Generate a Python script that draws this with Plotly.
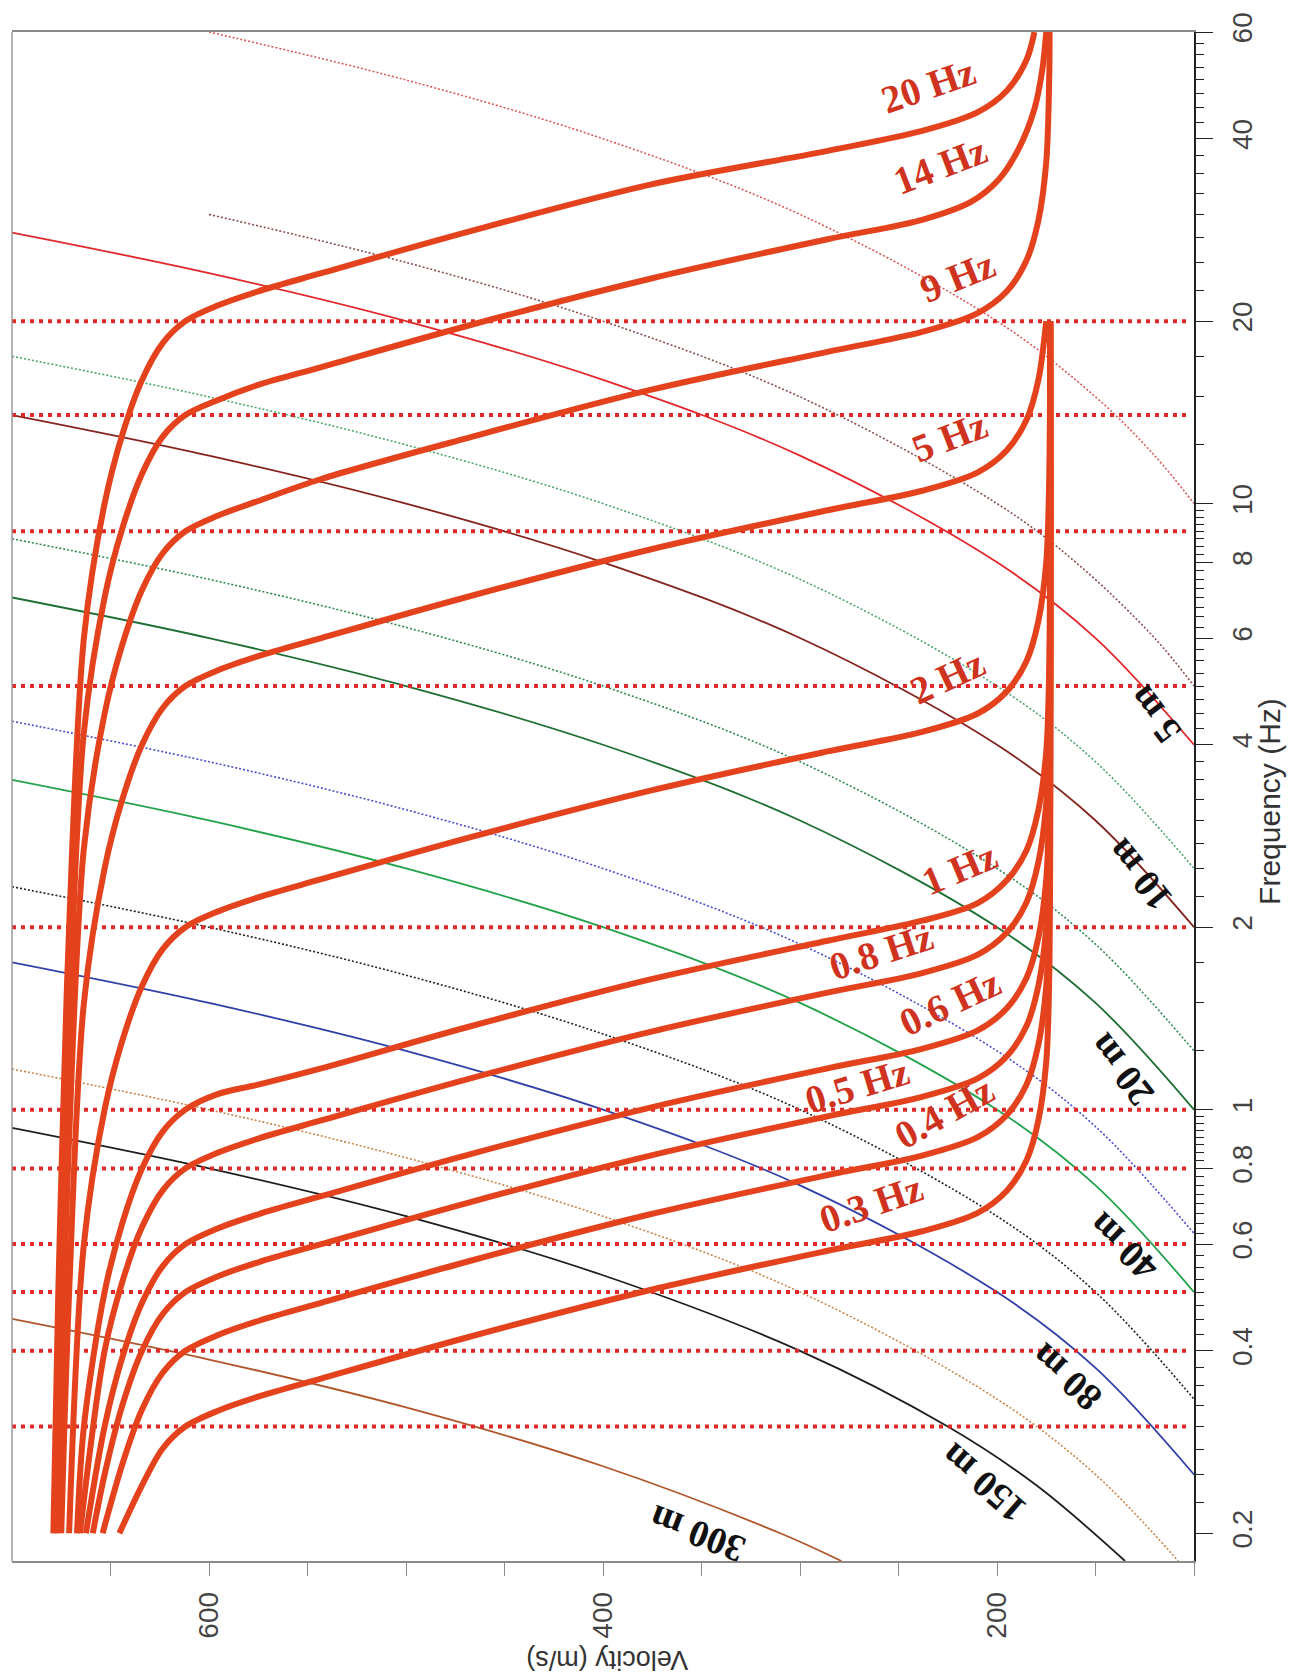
import math
import plotly.graph_objects as go

# ------------------------------------------------------------------ data
VEL_RANGE = [700, 100]          # m/s (axis reversed)
FREQ_RANGE = [0.18, 60]         # Hz (log)

# thick dispersion curves: frequency (Hz) / velocity (m/s)
C20_F = [0.2, 0.5, 1, 2, 6, 10, 13, 16, 18.4, 20, 21.2, 22.4, 24, 28, 33.6, 38.2, 41.2, 44.2, 48, 54, 60]
C20_V = [679, 676.5, 674, 671, 663.5, 653, 644, 634, 623.5, 612, 596, 575, 543, 470, 376, 286, 238, 210, 195, 185, 181]
C14_F = [0.2, 0.35, 0.7, 1.4, 4.2, 7.0, 9.1, 11.2, 12.9, 14.0, 14.8, 15.7, 16.8, 19.6, 23.5, 27.3, 29.4, 31.5, 34.3, 38.5, 44.8, 52, 60]
C14_V = [678, 676.5, 674, 671, 663.5, 653, 644, 634, 623.5, 612, 596, 575, 543, 470, 376, 286, 238, 213, 199, 189, 181, 177, 175]
C9_F = [0.2, 0.45, 0.9, 2.7, 4.5, 5.85, 7.2, 8.28, 9.0, 9.54, 10.1, 10.98, 12.8, 15.4, 17.8, 19.2, 20.6, 22.4, 25.2, 29.3, 36.6, 50.3, 60]
C9_V = [677, 674, 671, 663.5, 653, 644, 634, 623.5, 612, 596, 575, 543, 470, 376, 286, 238, 210, 195, 185, 179, 175, 173.5, 173.3]
C5_F = [0.2, 0.5, 1.5, 2.5, 3.25, 4.0, 4.6, 5.0, 5.3, 5.6, 6.0, 7.0, 8.4, 9.75, 10.5, 11.25, 12.25, 13.75, 16.0, 20.0]
C5_V = [675, 671, 663.5, 653, 644, 634, 623.5, 612, 596, 575, 543, 470, 376, 286, 238, 210, 195, 185, 179, 175]
C2_F = [0.2, 0.6, 1.0, 1.3, 1.6, 1.84, 2.0, 2.12, 2.24, 2.4, 2.8, 3.36, 3.9, 4.2, 4.5, 4.9, 5.5, 6.4, 8.0, 11.0, 20.0]
C2_V = [671, 663.5, 653, 644, 634, 623.5, 612, 596, 575, 543, 470, 376, 286, 238, 210, 195, 185, 179, 175, 173.5, 173]
C1_F = [0.2, 0.3, 0.5, 0.65, 0.8, 0.92, 1.0, 1.06, 1.1, 1.17, 1.365, 1.64, 1.9, 2.05, 2.19, 2.39, 2.68, 3.12, 3.9, 5.36, 20.0]
C1_V = [667, 663.5, 653, 644, 634, 623.5, 612, 596, 575, 543, 470, 376, 286, 238, 210, 195, 185, 179, 175, 173.5, 173]
C08_F = [0.2, 0.4, 0.52, 0.64, 0.736, 0.8, 0.848, 0.896, 0.96, 1.12, 1.344, 1.56, 1.68, 1.8, 1.96, 2.2, 2.56, 3.2, 4.4, 20.0]
C08_V = [665.5, 653, 644, 634, 623.5, 612, 596, 575, 543, 470, 376, 286, 238, 210, 195, 185, 179, 175, 173.5, 173]
C06_F = [0.2, 0.3, 0.39, 0.48, 0.552, 0.6, 0.636, 0.672, 0.72, 0.84, 1.008, 1.17, 1.26, 1.35, 1.47, 1.65, 1.92, 2.4, 3.3, 20.0]
C06_V = [662.5, 653, 644, 634, 623.5, 612, 596, 575, 543, 470, 376, 286, 238, 210, 195, 185, 179, 175, 173.5, 173]
C05_F = [0.2, 0.25, 0.325, 0.4, 0.46, 0.5, 0.53, 0.56, 0.6, 0.7, 0.84, 0.975, 1.05, 1.125, 1.225, 1.375, 1.6, 2.0, 2.75, 20.0]
C05_V = [659, 653, 644, 634, 623.5, 612, 596, 575, 543, 470, 376, 286, 238, 210, 195, 185, 179, 175, 173.5, 173]
C04_F = [0.2, 0.26, 0.32, 0.368, 0.4, 0.424, 0.448, 0.48, 0.56, 0.672, 0.78, 0.84, 0.9, 0.98, 1.1, 1.28, 1.6, 2.2, 20.0]
C04_V = [654, 644, 634, 623.5, 612, 596, 575, 543, 470, 376, 286, 238, 210, 195, 185, 179, 175, 173.5, 173]
C03_F = [0.2, 0.24, 0.276, 0.3, 0.318, 0.336, 0.36, 0.42, 0.504, 0.585, 0.63, 0.675, 0.735, 0.825, 0.96, 1.2, 1.65, 20.0]
C03_V = [645.5, 634, 623.5, 612, 596, 575, 543, 470, 376, 286, 238, 210, 195, 185, 179, 175, 173.5, 173]

CURVE_LABELS = ["20 Hz", "14 Hz", "9 Hz", "5 Hz", "2 Hz", "1 Hz", "0.8 Hz", "0.6 Hz", "0.5 Hz", "0.4 Hz", "0.3 Hz"]

# horizontal dotted marker lines at the resonance frequencies
RES_FREQS = [0.3, 0.4, 0.5, 0.6, 0.8, 1, 2, 5, 9, 14, 20]
RES_VEL_SPAN = [700, 103]

# thin depth / wavelength lines: frequency (Hz) / velocity (m/s)
D2_F = [60, 50, 40, 30, 20, 15, 12, 10]
D2_V = [600, 500, 400, 300, 200, 150, 120, 100]
D4_F = [30, 25, 20, 15, 10, 8, 6, 5]
D4_V = [600, 500, 400, 300, 200, 160, 120, 100]
D5_F = [28, 24, 20, 16, 12, 8, 6, 4]
D5_V = [700, 600, 500, 400, 300, 200, 150, 100]
D8_F = [17.5, 15, 12.5, 10, 7.5, 5, 3.75, 2.5]
D8_V = [700, 600, 500, 400, 300, 200, 150, 100]
D10_F = [14, 12, 10, 8, 6, 4, 3, 2]
D10_V = [700, 600, 500, 400, 300, 200, 150, 100]
D16_F = [8.75, 7.5, 6.25, 5, 3.75, 2.5, 1.875, 1.25]
D16_V = [700, 600, 500, 400, 300, 200, 150, 100]
D20_F = [7, 6, 5, 4, 3, 2, 1.5, 1]
D20_V = [700, 600, 500, 400, 300, 200, 150, 100]
D32_F = [4.375, 3.75, 3.125, 2.5, 1.875, 1.25, 0.9375, 0.625]
D32_V = [700, 600, 500, 400, 300, 200, 150, 100]
D40_F = [3.5, 3, 2.5, 2, 1.5, 1, 0.75, 0.5]
D40_V = [700, 600, 500, 400, 300, 200, 150, 100]
D64_F = [2.333, 2, 1.667, 1.333, 1, 0.667, 0.5, 0.333]
D64_V = [700, 600, 500, 400, 300, 200, 150, 100]
D80_F = [1.75, 1.5, 1.25, 1.0, 0.75, 0.5, 0.375, 0.25]
D80_V = [700, 600, 500, 400, 300, 200, 150, 100]
D128_F = [1.167, 1.0, 0.833, 0.667, 0.5, 0.333, 0.25, 0.18]
D128_V = [700, 600, 500, 400, 300, 200, 150, 108]
D150_F = [0.933, 0.8, 0.667, 0.533, 0.4, 0.3, 0.24, 0.18]
D150_V = [700, 600, 500, 400, 300, 225, 180, 135]
D300_F = [0.4516, 0.387, 0.3226, 0.258, 0.2, 0.18]
D300_V = [700, 600, 500, 400, 310, 279]

DEPTH_LABELS = ["5 m", "10 m", "20 m", "40 m", "80 m", "150 m", "300 m"]

Y_TICKS = [0.2, 0.4, 0.6, 0.8, 1, 2, 4, 6, 8, 10, 20, 40, 60]
Y_TICKTEXT = ["0.2", "0.4", "0.6", "0.8", "1", "2", "4", "6", "8", "10", "20", "40", "60"]
X_TICKS = [100, 150, 200, 250, 300, 350, 400, 450, 500, 550, 600, 650]
X_TICKTEXT = ["", "", "200", "", "", "", "400", "", "", "", "600", ""]

# ------------------------------------------------------------------ styles
THICK = "#E4421D"
DOT_RED = "#E02A2A"
SERIF = "Liberation Serif, Times New Roman, serif"
SANS = "Liberation Sans, Arial, Helvetica, sans-serif"

fig = go.Figure()

thin_lines = [
    (D2_F, D2_V, "#DB5A5A", "2px,2px", 1.6),
    (D4_F, D4_V, "#8A4F4F", "2px,2px", 1.6),
    (D5_F, D5_V, "#E2262A", "solid", 1.8),
    (D8_F, D8_V, "#4CA66A", "2px,2px", 1.6),
    (D10_F, D10_V, "#84221C", "solid", 1.8),
    (D16_F, D16_V, "#2E8A50", "2px,2px", 1.6),
    (D20_F, D20_V, "#1C6E32", "solid", 1.8),
    (D32_F, D32_V, "#4B4BD0", "2px,2px", 1.6),
    (D40_F, D40_V, "#22A24A", "solid", 1.8),
    (D64_F, D64_V, "#222222", "2px,2px", 1.6),
    (D80_F, D80_V, "#3040A8", "solid", 1.8),
    (D128_F, D128_V, "#C98545", "2px,2px", 1.6),
    (D150_F, D150_V, "#1E1E1E", "solid", 1.8),
    (D300_F, D300_V, "#B0552A", "solid", 1.8),
]
for fx, vy, col, dash, w in thin_lines:
    fig.add_trace(go.Scatter(x=vy, y=fx, mode="lines",
                             line=dict(color=col, width=w, dash=dash, shape="spline", smoothing=1.0),
                             hoverinfo="skip"))

for f in RES_FREQS:
    fig.add_trace(go.Scatter(x=RES_VEL_SPAN, y=[f, f], mode="lines",
                             line=dict(color=DOT_RED, width=4, dash="4px,5px"), hoverinfo="skip"))

curves = [(C20_F, C20_V), (C14_F, C14_V), (C9_F, C9_V), (C5_F, C5_V), (C2_F, C2_V), (C1_F, C1_V),
          (C08_F, C08_V), (C06_F, C06_V), (C05_F, C05_V), (C04_F, C04_V), (C03_F, C03_V)]
for fx, vy in curves:
    fig.add_trace(go.Scatter(x=vy, y=fx, mode="lines",
                             line=dict(color=THICK, width=6, shape="spline", smoothing=0.9), hoverinfo="skip"))

# frequency labels: (velocity, frequency, angle)
freq_label_pos = [(235, 49.0, -19), (229, 36.1, -21), (220, 23.7, -22), (224, 12.9, -21), (225, 5.18, -25),
                  (219, 2.5, -23), (259, 1.825, -18), (224, 1.5, -25), (271, 1.095, -17), (227, 0.99, -29),
                  (264, 0.70, -19)]
for txt, (v, f, ang) in zip(CURVE_LABELS, freq_label_pos):
    fig.add_annotation(x=v, y=math.log10(f), xref="x", yref="y", text="<b>%s</b>" % txt, showarrow=False,
                       textangle=ang, font=dict(family=SERIF, size=39, color="#CF3320"))

depth_label_pos = [(120, 4.48, -127), (128, 2.44, -129), (137, 1.16, -128), (136, 0.592, -136),
                   (165, 0.362, -138), (207, 0.242, -139), (352, 0.199, -159)]
for txt, (v, f, ang) in zip(DEPTH_LABELS, depth_label_pos):
    fig.add_annotation(x=v, y=math.log10(f), xref="x", yref="y", text="<b>%s</b>" % txt, showarrow=False,
                       textangle=ang, font=dict(family=SERIF, size=38, color="#111111"))

# axis titles
fig.add_annotation(x=0.5035, y=-0.0755, xref="paper", yref="paper", text="Velocity (m/s)", showarrow=False,
                   textangle=180, font=dict(family=SANS, size=27, color="#333333"))
fig.add_annotation(x=1.080, y=0.4965, xref="paper", yref="paper", text="Frequency (Hz)", showarrow=False,
                   textangle=-90, font=dict(family=SANS, size=30, color="#333333"))

minor_vals = []
for lo, hi, st in [(0.2, 1.0, 0.025), (1.0, 10.0, 0.25), (10.0, 60.0, 2.5)]:
    k = 1
    while lo + k * st < hi - 1e-9:
        minor_vals.append(round(lo + k * st, 4))
        k += 1

# page body has an 8px margin: figure is sized to sit inside the 1295x1678 window
fig.update_layout(
    width=1287, height=1670,
    margin=dict(l=4, r=101, t=20, b=117),
    paper_bgcolor="white", plot_bgcolor="white",
    showlegend=False, hovermode=False,
    xaxis=dict(range=VEL_RANGE, showgrid=False, zeroline=False, showline=True, linecolor="#8a8a8a", linewidth=1.5,
               mirror=True, ticks="outside", ticklen=13, tickcolor="#8a8a8a", tickwidth=1.2,
               tickmode="array", tickvals=X_TICKS, ticktext=X_TICKTEXT, tickangle=-90, ticklabelstandoff=5,
               tickfont=dict(family=SANS, size=28, color="#444444")),
    yaxis=dict(type="log", range=[math.log10(FREQ_RANGE[0]), math.log10(FREQ_RANGE[1])], side="right",
               showgrid=False, zeroline=False, showline=True, linecolor="#222222", linewidth=1.5,
               ticks="outside", ticklen=17, tickcolor="#222222", tickwidth=1.2,
               tickmode="array", tickvals=Y_TICKS, ticktext=Y_TICKTEXT, tickangle=-90, ticklabelstandoff=6,
               tickfont=dict(family=SANS, size=28, color="#444444"),
               minor=dict(ticks="outside", ticklen=8, tickcolor="#222222", tickwidth=1, tickvals=minor_vals)),
    shapes=[dict(type="line", xref="paper", yref="paper", x0=0, x1=0, y0=0, y1=1,
                 line=dict(color="#9a9a9a", width=1.5))],
)

fig.write_html("out.html")
